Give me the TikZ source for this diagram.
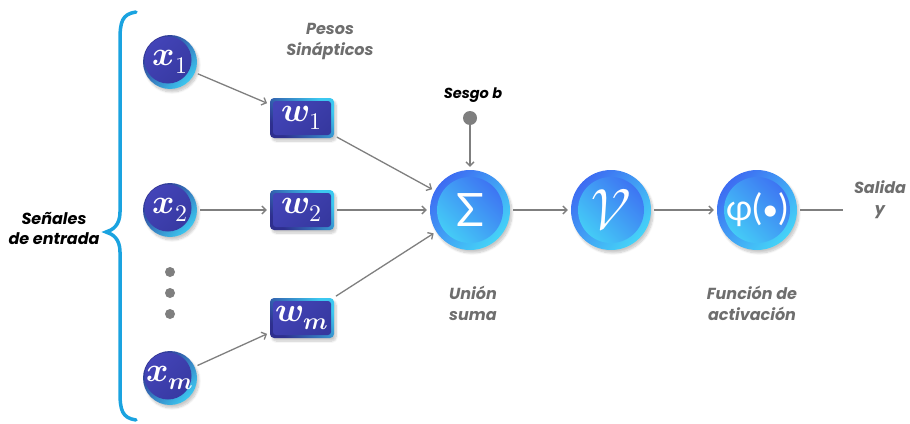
\documentclass[tikz,border=0pt]{standalone}
\usepackage{fontspec}
\usepackage{unicode-math}
\setmainfont{Poppins}
\setmathfont{Latin Modern Math}
\newfontfamily\greekfont{Lato}
\usetikzlibrary{arrows.meta,shadows.blur}

\definecolor{indA}{HTML}{2E2F8E}
\definecolor{indB}{HTML}{4344B8}
\definecolor{indC}{HTML}{36389F}
\definecolor{cyanA}{HTML}{3CC8F0}
\definecolor{blueA}{HTML}{3D6CF2}
\definecolor{cyanB}{HTML}{45D4F7}
\definecolor{linegray}{HTML}{7F7F7F}
\definecolor{labgray}{HTML}{6E6E6E}
\definecolor{bracecol}{HTML}{1AA3E0}

\begin{document}
\begin{tikzpicture}[x=1pt,y=-1pt,
  soft/.style={blur shadow={shadow xshift=2pt,shadow yshift=-3pt,shadow opacity=22,shadow blur steps=8}},
  arr/.style={draw=linegray,line width=1.3pt,shorten >=3pt,shorten <=3pt,
    -{Straight Barb[length=4pt,width=8pt]}},
  inputnode/.style={circle,minimum size=54pt,inner sep=0pt,soft,
    top color=indA,middle color=indA,bottom color=cyanA,shading angle=45,
    text=white,font=\fontsize{34}{34}\selectfont,
    path picture={\shade[top color=indB,bottom color=indC,shading angle=45]
      ([xshift=-2pt,yshift=2pt]path picture bounding box.center) circle[radius=23.5pt];}},
  weightnode/.style={rectangle,rounded corners=4pt,minimum width=64pt,minimum height=40pt,
    inner sep=0pt,soft,top color=cyanA,middle color=indA,bottom color=indA,shading angle=-45,
    text=white,font=\fontsize{34}{34}\selectfont,
    path picture={\shade[top color=indB,bottom color=indC,shading angle=45,rounded corners=3pt]
      ([xshift=3pt,yshift=3pt]path picture bounding box.south west) rectangle
      ([xshift=-3pt,yshift=-3pt]path picture bounding box.north east);}},
  bignode/.style={circle,minimum size=80pt,inner sep=0pt,soft,
    top color=blueA,bottom color=cyanB,shading angle=45,text=white,
    path picture={\shade[top color=blueA,bottom color=cyanB,shading angle=-45]
      (path picture bounding box.center) circle[radius=33pt];}},
  lab/.style={font=\fontsize{16}{21}\selectfont\bfseries\itshape,text=labgray,align=center},
  blab/.style={font=\fontsize{16}{20}\selectfont\bfseries\itshape,text=black,align=center},
  dot/.style={circle,fill=linegray,minimum size=10pt,inner sep=0pt}
]
\useasboundingbox (0,0) rectangle (910,423);

% curly brace around the inputs
\draw[bracecol,line width=3.5pt,line cap=round]
  (136,12) .. controls (122,14) and (120,22) .. (120,40)
  -- (120,212) .. controls (120,225) and (113,230) .. (106,232)
  .. controls (113,234) and (120,239) .. (120,252)
  -- (120,392) .. controls (120,410) and (122,418) .. (136,420);
\node[blab] (senales) at (54,228) {Señales\\de entrada};

% inputs
\node[inputnode] (x1) at (170,62) {$\symbfit{x}_{\symbfit{1}}$};
\node[inputnode] (x2) at (170,210) {$\symbfit{x}_{\symbfit{2}}$};
\node[inputnode] (xm) at (170,378) {$\symbfit{x}_{\symbfit{m}}$};
\node[dot] (d1) at (170,272) {};
\node[dot] (d2) at (170,293) {};
\node[dot] (d3) at (170,314) {};

% synaptic weights
\node[lab] (pesos) at (330,42) {Pesos\\Sinápticos};
\node[weightnode] (w1) at (302,118) {$\symbfit{w}_{\symbfit{1}}$};
\node[weightnode] (w2) at (302,210) {$\symbfit{w}_{\symbfit{2}}$};
\node[weightnode] (wm) at (302,318) {$\symbfit{w}_{\symbfit{m}}$};

% summation, activation and function
\node[bignode,font=\fontsize{46}{46}\selectfont\greekfont] (sum) at (470,210) {Σ};
\node[bignode,font=\fontsize{58}{58}\selectfont] (v) at (611,210) {$\mathscr{V}$};
\node[bignode,font=\fontsize{36}{36}\selectfont\greekfont] (phi) at (757,210)
  {φ(\kern-0.5pt\raisebox{0.5pt}{\fontsize{30}{30}\selectfont•}\kern-0.5pt)};

\node[lab] (union) at (473,303) {Unión\\suma};
\node[lab] (funcion) at (752,303) {Función de\\activación};
\node[lab] (salida) at (880,200) {Salida\\y};

% bias
\node[font=\fontsize{14.5}{17}\selectfont\bfseries\itshape] (sesgo) at (473,95) {Sesgo b};
\node[dot,minimum size=14pt] (bias) at (470,118) {};
\coordinate (out) at (843,210);

% connections
\draw[arr] (x1) -- (w1);
\draw[arr] (x2) -- (w2);
\draw[arr] (xm) -- (wm);
\draw[arr] (w1) -- (sum);
\draw[arr] (w2) -- (sum);
\draw[arr] (wm) -- (sum);
\draw[arr,shorten <=0pt] (bias) -- (sum);
\draw[arr] (sum) -- (v);
\draw[arr] (v) -- (phi);
\draw[draw=linegray,line width=1.3pt,shorten <=3pt] (phi) -- (out);
\end{tikzpicture}
\end{document}
